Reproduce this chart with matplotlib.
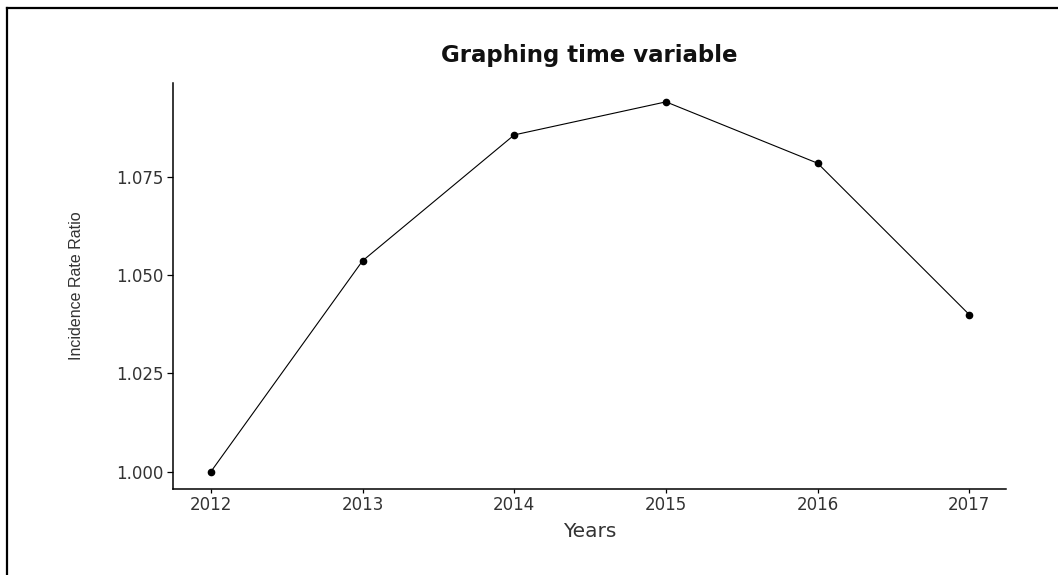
import matplotlib
matplotlib.use("Agg")
import matplotlib.pyplot as plt
from matplotlib.lines import Line2D

years = [2012, 2013, 2014, 2015, 2016, 2017]
irr = [1.000, 1.0536, 1.0856, 1.0940, 1.0784, 1.0399]
y_ticks = [1.000, 1.025, 1.050, 1.075]
y_tick_labels = ["1.000", "1.025", "1.050", "1.075"]

plt.rcParams["font.family"] = ["DejaVu Sans"]

fig = plt.figure(figsize=(10.58, 5.75), dpi=100)
ax = fig.add_axes([0.1635, 0.1496, 0.7871, 0.7061])

ax.plot(years, irr, color="black", linewidth=0.8, marker="o",
        markersize=4.5, markerfacecolor="black", markeredgecolor="black")

ax.set_xlim(2011.75, 2017.24)
ax.set_ylim(0.9956, 1.0988)
ax.set_xticks(years)
ax.set_xticklabels([str(y) for y in years])
ax.set_yticks(y_ticks)
ax.set_yticklabels(y_tick_labels)

for side in ["top", "right"]:
    ax.spines[side].set_visible(False)
for side in ["left", "bottom"]:
    ax.spines[side].set_linewidth(1.1)
    ax.spines[side].set_color("black")

ax.tick_params(axis="x", length=3, width=0.9, pad=2, labelsize=12,
               labelcolor="#333333")
ax.tick_params(axis="y", length=4, width=0.9, pad=3, labelsize=12,
               labelcolor="#333333")

ax.set_title("Graphing time variable", fontsize=16.5, fontweight="bold",
             color="#111111", pad=15)
ax.set_xlabel("Years", fontsize=14.5, color="#333333", labelpad=6)
ax.set_ylabel("Incidence Rate Ratio", fontsize=11.5, color="#333333",
              labelpad=23, family=["Liberation Sans", "DejaVu Sans"])

# screenshot frame (only left and top edges show)
bx, by = 7 / 1058, 1 - 8 / 575
fig.add_artist(Line2D([bx, bx], [0, by], transform=fig.transFigure,
                      color="black", linewidth=1.6))
fig.add_artist(Line2D([bx, 1], [by, by], transform=fig.transFigure,
                      color="black", linewidth=1.6))

fig.savefig("out.png", dpi=100)
